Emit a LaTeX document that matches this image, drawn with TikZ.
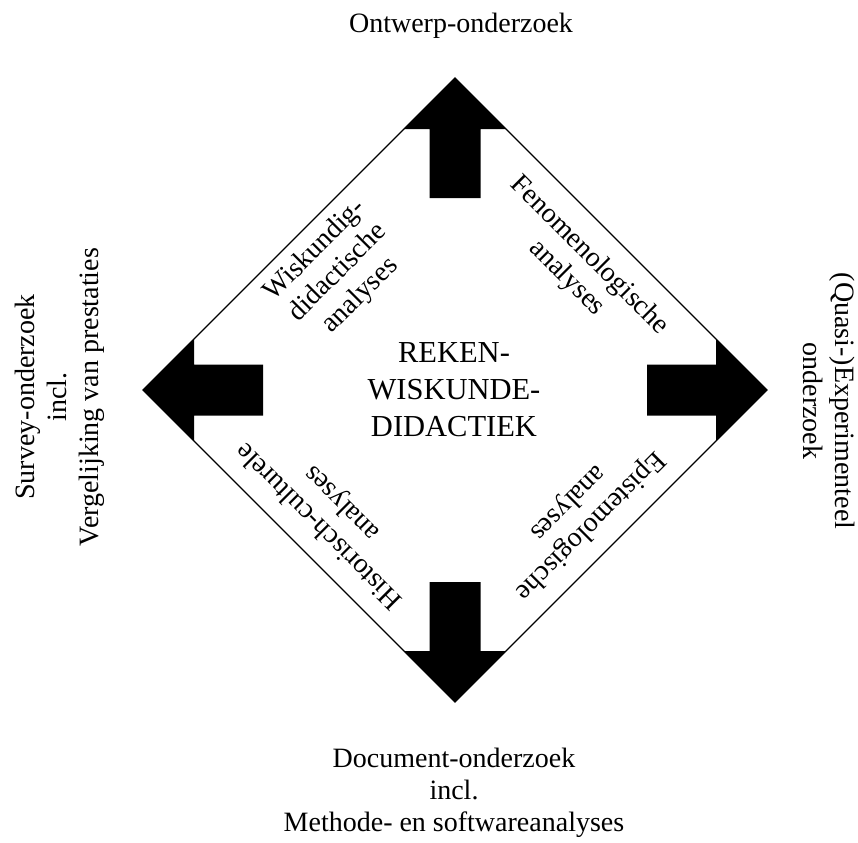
\documentclass[tikz,border=0pt]{standalone}
\usepackage{fontspec}
\setmainfont{Liberation Serif}

\tikzset{
  outertext/.style={font=\fontsize{14}{16}\selectfont, align=center, inner sep=0pt},
  centretext/.style={font=\fontsize{15.25}{18.5}\selectfont, align=center, inner sep=0pt},
  rim/.style={line width=0.6pt},
  bigarrow/.style={fill=black}
}

\begin{document}
\begin{tikzpicture}[x=0.5pt, y=-0.5pt]
   \useasboundingbox (0,0) rectangle (858,842);
   \coordinate (c) at (455,390);
   \coordinate (top) at (455,78);
   \coordinate (right) at (767,390);
   \coordinate (bottom) at (455,702);
   \coordinate (left) at (143,390);
   \draw [rim] (top) -- (right) -- (bottom) -- (left) -- cycle;

   % the four block arrows
   \fill [bigarrow] (top) -- ++(51,51) -- ++(-25.5,0) -- ++(0,69) -- ++(-51,0) -- ++(0,-69) -- ++(-25.5,0) -- cycle;
   \fill [bigarrow] (bottom) -- ++(51,-51) -- ++(-25.5,0) -- ++(0,-69) -- ++(-51,0) -- ++(0,69) -- ++(-25.5,0) -- cycle;
   \fill [bigarrow] (left) -- ++(51,-51) -- ++(0,25.5) -- ++(69,0) -- ++(0,51) -- ++(-69,0) -- ++(0,25.5) -- cycle;
   \fill [bigarrow] (right) -- ++(-51,-51) -- ++(0,25.5) -- ++(-69,0) -- ++(0,51) -- ++(69,0) -- ++(0,25.5) -- cycle;

   \node (centre) at (454,390) [centretext] {REKEN-\\WISKUNDE-\\DIDACTIEK};
   \node (ontwerp) at (461,26) [outertext] {Ontwerp-onderzoek};
   \node (survey) at (60,397) [outertext, rotate=90] {Survey-onderzoek\\incl.\\Vergelijking van prestaties};
   \node (experiment) at (829,401) [outertext, rotate=-90] {(Quasi-)Experimenteel\\onderzoek};
   \node (document) at (454,793) [outertext] {Document-onderzoek\\incl.\\Methode- en softwareanalyses};

   % labels along the edges
   \node (wiskdid) at (338,273) [outertext, rotate=45] {Wiskundig-\\didactische\\analyses};
   \node (fenom) at (578,267) [outertext, rotate=-45] {Fenomenologische\\analyses};
   \node (histcult) at (331,514) [outertext, rotate=135] {Historisch-culturele\\analyses};
   \node (epist) at (579,514) [outertext, rotate=225] {Epistemologische\\analyses};
\end{tikzpicture}
\end{document}
